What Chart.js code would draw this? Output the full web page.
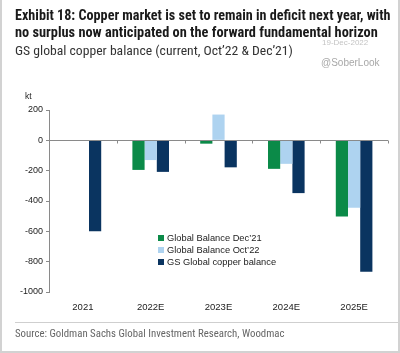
<!DOCTYPE html>
<html>
<head>
<meta charset="utf-8">
<script src="https://cdn.jsdelivr.net/npm/chart.js@4/dist/chart.umd.min.js"></script>
<style>
  html, body { margin: 0; padding: 0; background: #fff; }
  #wrap { position: relative; width: 400px; height: 353px; overflow: hidden; background: #fff; }
  #frame { position: absolute; left: 0; top: 0; width: 396px; height: 351px; border-left: 2px solid #d2d2d2; border-right: 2px solid #d2d2d2; border-bottom: 2px solid #d2d2d2; }
  .t { position: absolute; white-space: nowrap; font-family: "Liberation Sans Narrow", "Roboto Condensed", "Liberation Sans", sans-serif; }
  .title { left: 15px; font-size: 14px; font-weight: bold; color: #1a1a1a; line-height: 18px; }
  #t1 { top: 6px; }
  #t2 { top: 24px; }
  #sub { left: 15px; top: 42px; font-size: 13.4px; color: #333; }
  #date { left: 322px; top: 38px; font-size: 8px; color: #c4c4c4; font-family: "Liberation Sans", sans-serif; }
  #wm { left: 321px; top: 57px; font-size: 10px; color: #a8a8a8; font-family: "Liberation Sans", sans-serif; }
  #kt { left: 25px; top: 91px; font-size: 8.5px; color: #222; font-family: "Liberation Sans", sans-serif; }
  #rule { position: absolute; left: 15px; top: 322px; width: 383px; height: 1px; background: #cfcfcf; }
  #src { left: 15px; top: 327px; font-size: 10.8px; color: #666; }
  #legend { position: absolute; left: 158px; top: 232px; font-family: "Liberation Sans", sans-serif; font-size: 9.3px; color: #222; }
  #legend div { height: 12px; line-height: 12px; white-space: nowrap; }
  #legend span.sw { display: inline-block; width: 6px; height: 6px; margin-right: 3px; vertical-align: 0px; }
  canvas { position: absolute; left: 0; top: 0; }
</style>
</head>
<body>
<div id="wrap">
  <canvas id="c" width="400" height="353"></canvas>
  <div class="t title" id="t1">Exhibit 18: Copper market is set to remain in deficit next year, with</div>
  <div class="t title" id="t2">no surplus now anticipated on the forward fundamental horizon</div>
  <div class="t" id="sub">GS global copper balance (current, Oct’22 &amp; Dec’21)</div>
  <div class="t" id="date">19-Dec-2022</div>
  <div class="t" id="wm">@SoberLook</div>
  <div class="t" id="kt">kt</div>
  <div id="legend"></div>
  <div id="rule"></div>
  <div class="t" id="src">Source: Goldman Sachs Global Investment Research, Woodmac</div>
  <div id="frame"></div>
</div>
<script>
// categories and series (kt)
const years = ['2021', '2022E', '2023E', '2024E', '2025E'];
const balanceDec21 = [null, -195, -22, -188, -503];
const balanceOct22 = [null, -130, 170, -155, -445];
const gsBalance = [-600, -208, -178, -348, -866];
const yTicks = [200, 0, -200, -400, -600, -800, -1000];

const seriesNames = ['Global Balance Dec\u201921', 'Global Balance Oct\u201922', 'GS Global copper balance'];
const seriesColors = ['#0b8a48', '#aed3f0', '#0a3460'];

const axisGrey = '#8a8a8a';

// squeeze the title lines to the width they have in the original
function fitWidth(id, target) {
    const el = document.getElementById(id);
    const size = parseFloat(getComputedStyle(el).fontSize);
    el.style.fontSize = (size * target / el.getBoundingClientRect().width) + 'px';
}
fitWidth('t1', 376);
fitWidth('t2', 363);
fitWidth('sub', 278);

// zero line with ticks at category boundaries
const zeroAxis = {
    id: 'zeroAxis',
    afterDatasetsDraw(chart) {
        const { ctx, chartArea, scales } = chart;
        const y0 = Math.round(scales.y.getPixelForValue(0)) + 0.5;
        ctx.save();
        ctx.strokeStyle = axisGrey;
        ctx.lineWidth = 1;
        ctx.beginPath();
        ctx.moveTo(chartArea.left, y0);
        ctx.lineTo(chartArea.right, y0);
        const x = scales.x;
        for (let i = 0; i <= years.length; i++) {
            const px = Math.round(x.getPixelForValue(i - 0.5)) + 0.5;
            ctx.moveTo(px, y0);
            ctx.lineTo(px, y0 + 3);
        }
        ctx.stroke();
        ctx.restore();
    }
};

const chart = new Chart(document.getElementById('c'), {
    type: 'bar',
    data: {
        labels: years,
        datasets: [
            { label: seriesNames[0], data: balanceDec21, backgroundColor: seriesColors[0] },
            { label: seriesNames[1], data: balanceOct22, backgroundColor: seriesColors[1] },
            { label: seriesNames[2], data: gsBalance, backgroundColor: seriesColors[2] }
        ]
    },
    options: {
        responsive: false,
        animation: false,
        layout: { padding: { top: 110, right: 12, bottom: 43, left: 0 } },
        datasets: { bar: { barPercentage: 1, categoryPercentage: 0.54, skipNull: false } },
        plugins: {
            legend: { display: false },
            tooltip: { enabled: false }
        },
        scales: {
            x: {
                grid: { display: false },
                border: { display: false },
                ticks: { color: '#222', font: { family: 'Liberation Sans', size: 9.5 }, padding: 2 },
                afterFit: (s) => { s.height = 18; }
            },
            y: {
                min: -1000,
                max: 200,
                afterBuildTicks: (s) => { s.ticks = yTicks.map(v => ({ value: v })); },
                grid: { drawOnChartArea: false, tickLength: 3, tickColor: axisGrey },
                border: { display: true, color: axisGrey },
                ticks: {
                    color: '#222',
                    font: { family: 'Liberation Sans', size: 9 },
                    padding: 3,
                    callback: (v) => String(v)
                },
                afterFit: (s) => { s.width = 49; }
            }
        }
    },
    plugins: [zeroAxis]
});

// legend inside the plot
const leg = document.getElementById('legend');
chart.data.datasets.forEach(ds => {
    const row = document.createElement('div');
    row.innerHTML = '<span class="sw" style="background:' + ds.backgroundColor + '"></span>' + ds.label;
    leg.appendChild(row);
});
</script>
</body>
</html>
